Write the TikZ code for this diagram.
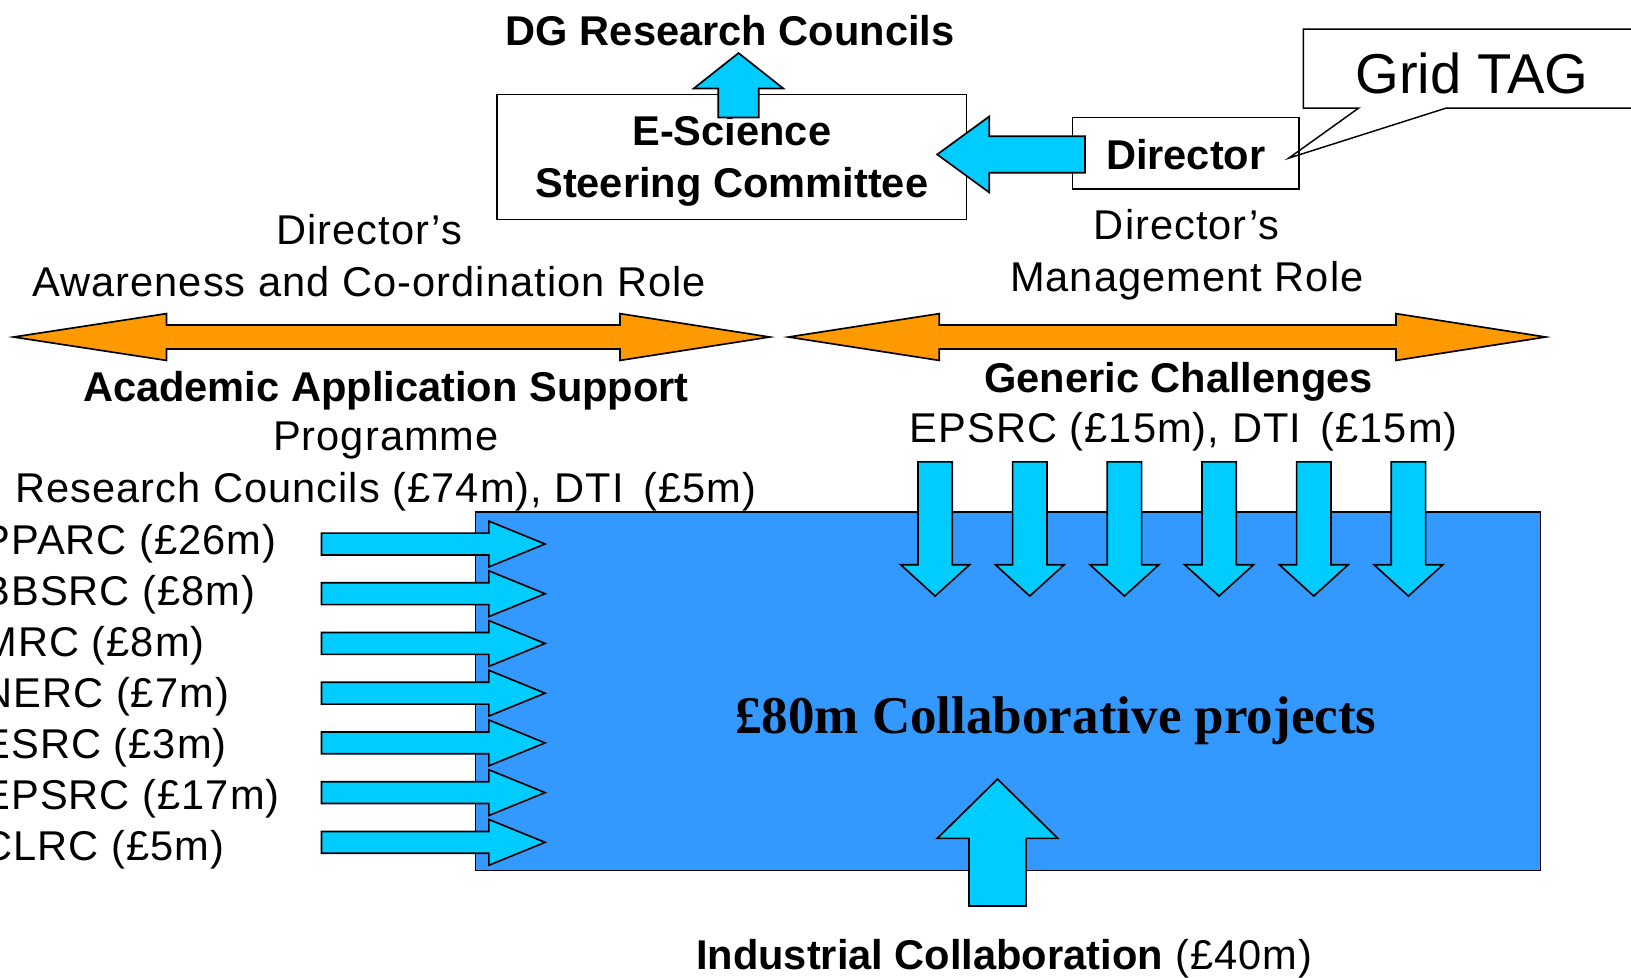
\documentclass[tikz,border=0pt]{standalone}
\usepackage{fontspec}
\setmainfont{Liberation Sans}
\newfontfamily\regfont{Liberation Sans}[LetterSpace=2.5]
\newfontfamily\collabfont{Liberation Serif}
\definecolor{boxblue}{RGB}{51,153,255}
\definecolor{arrcyan}{RGB}{0,204,255}
\definecolor{arrorange}{RGB}{255,153,0}
\tikzset{
  barrow/.style={fill=arrcyan,draw=black,line width=1.6pt,line join=miter},
  oarrow/.style={fill=arrorange,draw=black,line width=1.6pt,line join=miter},
  txt/.style={font=\regfont\fontsize{40}{50}\selectfont,inner sep=0pt,anchor=base},
  btxt/.style={inner sep=0pt,anchor=base,font=\fontsize{40}{50}\selectfont\bfseries},
  framebox/.style={draw=black,line width=1.6pt,inner sep=0pt}
}
% horizontal block arrow: tail x, head-base x, tip x, centre y, shaft half, head half
\newcommand\harr[7][barrow]{\filldraw[#1] (#2,{#5-#6}) -- (#3,{#5-#6}) -- (#3,{#5-#7}) -- (#4,#5) -- (#3,{#5+#7}) -- (#3,{#5+#6}) -- (#2,{#5+#6}) -- cycle;}
% vertical block arrow: centre x, tail y, head-base y, tip y, shaft half, head half
\newcommand\varr[6]{\filldraw[barrow] ({#1-#5},#2) -- ({#1-#5},#3) -- ({#1-#6},#3) -- (#1,#4) -- ({#1+#6},#3) -- ({#1+#5},#3) -- ({#1+#5},#2) -- cycle;}
% double block arrow: left tip, left base, right base, right tip, y, shaft half, head half
\newcommand\darr[7]{\filldraw[oarrow] (#1,#5) -- (#2,{#5-#7}) -- (#2,{#5-#6}) -- (#3,{#5-#6}) -- (#3,{#5-#7}) -- (#4,#5) -- (#3,{#5+#7}) -- (#3,{#5+#6}) -- (#2,{#5+#6}) -- (#2,{#5+#7}) -- cycle;}
\begin{document}
\begin{tikzpicture}[x=1pt,y=-1pt]
\useasboundingbox (0,0) rectangle (1568,940);
\clip (0,0) rectangle (1568,940);

% top part
\node[btxt] (dg) at (702,44) {DG Research Councils};
\node[framebox,fill=white,minimum width=451pt,minimum height=120pt] (esc) at (703.5,151) {};
\node[btxt] (esc1) at (703.5,140) {E-Science};
\node[btxt] (esc2) at (703.5,190) {Steering Committee};
\varr{710}{113}{85}{51}{19.5}{43}

% Grid TAG callout
\filldraw[fill=white,draw=black,line width=1.4pt] (1253,28) -- (1580,28) -- (1580,104) -- (1390,104) -- (1239,152) -- (1306,104) -- (1253,104) -- cycle;
\node[inner sep=0pt,anchor=base,font=\fontsize{54}{60}\selectfont] (tag) at (1415,90) {Grid TAG};

\node[framebox,minimum width=218pt,minimum height=69pt] (dir) at (1140,147.5) {};
\node[btxt] (dirt) at (1140,163) {Director};
\harr{1043}{951}{901}{148.5}{17.5}{36.5}

% roles
\node[txt] (aw1) at (355,235) {Director’s};
\node[txt] (aw2) at (355,285) {Awareness and Co-ordination Role};
\node[txt] (mg1) at (1141,230) {Director’s};
\node[txt] (mg2) at (1141,280) {Management Role};

\darr{13}{160}{596}{740}{324}{11.5}{22.5}
\darr{758}{903}{1342}{1486}{324}{11.5}{22.5}

\node[btxt] (aas) at (371,386) {Academic Application Support};
\node[txt] (prog) at (371,433) {Programme};
\node[txt] (rc) at (371,483) {Research Councils (£74m), DTI\, (£5m)};
\node[btxt] (gc) at (1133,377) {Generic Challenges};
\node[txt] (gcf) at (1138,425) {EPSRC (£15m), DTI\, (£15m)};

% main box
\node[draw=black,line width=1.4pt,fill=boxblue,minimum width=1024pt,minimum height=345pt,inner sep=0pt] (main) at (969,664.5) {};
\node[inner sep=0pt,anchor=base,font=\collabfont\bfseries\fontsize{51}{56}\selectfont] (collab) at (1015,705) {£80m Collaborative projects};

% council list and arrows
\foreach \lab [count=\i from 0] in {PPARC (£26m),BBSRC (£8m),MRC (£8m),NERC (£7m),ESRC (£3m),EPSRC (£17m),CLRC (£5m)}{
  \node[txt,anchor=base west] (c\i) at (-17,{533+49*\i}) {\lab};
  \harr{309}{470}{524}{523+47.8*\i}{10.5}{22}
}

% generic challenge arrows
\foreach \i in {0,...,5}{
  \varr{899+91*\i}{444}{543}{573}{16.5}{33}
}

% industrial
\varr{959}{871}{806}{749}{27.5}{58}
\node[txt] (ind) at (965.5,932) {{\normalfont\bfseries Industrial Collaboration} (£40m)};
\end{tikzpicture}
\end{document}
